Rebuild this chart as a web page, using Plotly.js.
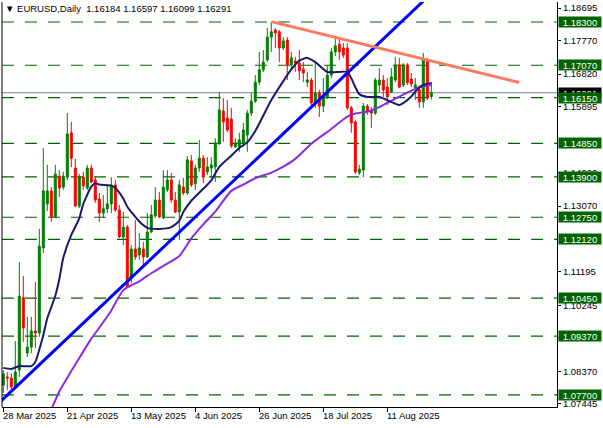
<!DOCTYPE html>
<html><head><meta charset="utf-8">
<script src="https://cdn.plot.ly/plotly-3.0.1.min.js"></script>
<style>html,body{margin:0;padding:0;background:#fff;}#chart{width:603px;height:428px;}</style>
</head><body><div id="chart"></div>
<script>
const dates = ['2025-03-28','2025-03-31',
'2025-04-01','2025-04-02','2025-04-03','2025-04-04','2025-04-07','2025-04-08','2025-04-09','2025-04-10','2025-04-11','2025-04-14','2025-04-15','2025-04-16','2025-04-17','2025-04-18','2025-04-21','2025-04-22','2025-04-23','2025-04-24','2025-04-25','2025-04-28','2025-04-29','2025-04-30',
'2025-05-01','2025-05-02','2025-05-05','2025-05-06','2025-05-07','2025-05-08','2025-05-09','2025-05-12','2025-05-13','2025-05-14','2025-05-15','2025-05-16','2025-05-19','2025-05-20','2025-05-21','2025-05-22','2025-05-23','2025-05-26','2025-05-27','2025-05-28','2025-05-29','2025-05-30',
'2025-06-02','2025-06-03','2025-06-04','2025-06-05','2025-06-06','2025-06-09','2025-06-10','2025-06-11','2025-06-12','2025-06-13','2025-06-16','2025-06-17','2025-06-18','2025-06-19','2025-06-20','2025-06-23','2025-06-24','2025-06-25','2025-06-26','2025-06-27','2025-06-30',
'2025-07-01','2025-07-02','2025-07-03','2025-07-04','2025-07-07','2025-07-08','2025-07-09','2025-07-10','2025-07-11','2025-07-14','2025-07-15','2025-07-16','2025-07-17','2025-07-18','2025-07-21','2025-07-22','2025-07-23','2025-07-24','2025-07-25','2025-07-28','2025-07-29','2025-07-30','2025-07-31',
'2025-08-01','2025-08-04','2025-08-05','2025-08-06','2025-08-07','2025-08-08','2025-08-11','2025-08-12','2025-08-13','2025-08-14','2025-08-15','2025-08-18','2025-08-19','2025-08-20','2025-08-21','2025-08-22','2025-08-25','2025-08-26'];

const openP = [1.0798,1.0821,1.0818,1.0795,1.0841,1.1046,1.0889,1.0906,1.0952,1.0946,
1.1188,1.1313,1.1350,1.1276,1.1392,1.1361,1.1389,1.1515,1.1415,1.1307,
1.1389,1.1358,1.1415,1.1381,1.1327,1.1287,1.1299,1.1313,1.1367,1.1296,
1.1219,1.1247,1.1102,1.1185,1.1168,1.1185,1.1162,1.1233,1.1279,1.1324,
1.1273,1.1353,1.1381,1.1324,1.1290,1.1361,1.1344,1.1435,1.1370,1.1415,
1.1443,1.1404,1.1415,1.1418,1.1486,1.1577,1.1557,1.1554,1.1475,1.1475,
1.1486,1.1509,1.1571,1.1605,1.1659,1.1694,1.1722,1.1787,1.1807,1.1802,
1.1756,1.1779,1.1708,1.1719,1.1713,1.1696,1.1659,1.1665,1.1600,1.1628,
1.1591,1.1617,1.1679,1.1745,1.1767,1.1756,1.1756,1.1586,1.1546,1.1401,
1.1409,1.1591,1.1577,1.1571,1.1651,1.1665,1.1645,1.1631,1.1665,1.1708,
1.1651,1.1708,1.1668,1.1642,1.1637,1.1603,1.1722,1.16184];
const highP = [1.0841,1.0835,1.0832,1.0923,1.1148,1.1108,1.0992,1.0992,1.1091,1.1242,
1.1472,1.1424,1.1361,1.1424,1.1409,1.1404,1.1571,1.1546,1.1441,1.1398,
1.1404,1.1424,1.1424,1.1389,1.1344,1.1338,1.1367,1.1389,1.1381,1.1310,
1.1290,1.1253,1.1196,1.1267,1.1230,1.1205,1.1287,1.1310,1.1361,1.1347,
1.1409,1.1409,1.1401,1.1347,1.1381,1.1387,1.1449,1.1452,1.1424,1.1495,
1.1452,1.1446,1.1446,1.1500,1.1631,1.1614,1.1608,1.1586,1.1500,1.1515,
1.1543,1.1580,1.1628,1.1679,1.1745,1.1750,1.1813,1.1830,1.1813,1.1807,
1.1787,1.1787,1.1745,1.1731,1.1750,1.1716,1.1688,1.1671,1.1713,1.1637,
1.1671,1.1705,1.1756,1.1785,1.1785,1.1770,1.1770,1.1591,1.1551,1.1424,
1.1600,1.1597,1.1588,1.1671,1.1699,1.1679,1.1671,1.1699,1.1731,1.1728,
1.1713,1.1713,1.1685,1.1671,1.1651,1.1742,1.1728,1.16597];
const lowP = [1.0776,1.0784,1.0784,1.0790,1.0821,1.0921,1.0878,1.0889,1.0903,1.0935,
1.1173,1.1293,1.1262,1.1273,1.1333,1.1353,1.1381,1.1418,1.1304,1.1301,
1.1353,1.1353,1.1372,1.1316,1.1262,1.1273,1.1287,1.1287,1.1290,1.1216,
1.1196,1.1074,1.1088,1.1154,1.1154,1.1139,1.1159,1.1230,1.1273,1.1273,
1.1270,1.1347,1.1316,1.1287,1.1210,1.1338,1.1338,1.1361,1.1353,1.1404,
1.1372,1.1395,1.1387,1.1375,1.1480,1.1489,1.1517,1.1472,1.1472,1.1461,
1.1475,1.1461,1.1563,1.1600,1.1651,1.1688,1.1716,1.1745,1.1756,1.1716,
1.1750,1.1665,1.1694,1.1688,1.1665,1.1659,1.1645,1.1591,1.1586,1.1560,
1.1574,1.1611,1.1671,1.1733,1.1722,1.1728,1.1580,1.1515,1.1398,1.1395,
1.1389,1.1566,1.1529,1.1566,1.1631,1.1617,1.1594,1.1628,1.1659,1.1642,
1.1645,1.1651,1.1645,1.1608,1.1586,1.1586,1.1608,1.16099];
const closeP = [1.0830,1.0818,1.0793,1.0835,1.1051,1.0960,1.0906,1.0952,1.0946,1.1193,
1.1350,1.1350,1.1276,1.1398,1.1358,1.1392,1.1512,1.1443,1.1307,1.1389,
1.1364,1.1415,1.1375,1.1324,1.1287,1.1299,1.1313,1.1367,1.1296,1.1219,
1.1247,1.1077,1.1185,1.1162,1.1188,1.1162,1.1233,1.1282,1.1324,1.1276,
1.1361,1.1381,1.1324,1.1290,1.1367,1.1344,1.1438,1.1367,1.1415,1.1443,
1.1389,1.1418,1.1424,1.1486,1.1580,1.1546,1.1523,1.1478,1.1486,1.1495,
1.1523,1.1571,1.1605,1.1659,1.1694,1.1716,1.1787,1.1802,1.1799,1.1756,
1.1776,1.1708,1.1728,1.1713,1.1691,1.1685,1.1665,1.1600,1.1628,1.1591,
1.1620,1.1679,1.1745,1.1762,1.1745,1.1736,1.1586,1.1543,1.1404,1.1412,
1.1591,1.1577,1.1571,1.1665,1.1665,1.1637,1.1617,1.1674,1.1708,1.1645,
1.1708,1.1657,1.1654,1.1651,1.1603,1.1722,1.1614,1.16291];

const fastMaDates = ['2025-03-28','2025-04-01','2025-04-03','2025-04-08','2025-04-09','2025-04-11','2025-04-14','2025-04-16','2025-04-17','2025-04-18','2025-04-22','2025-04-23','2025-04-24','2025-04-25','2025-04-29','2025-04-30','2025-05-01','2025-05-06','2025-05-07','2025-05-09','2025-05-12','2025-05-15','2025-05-19','2025-05-22','2025-05-27','2025-05-29','2025-05-30','2025-06-03','2025-06-06','2025-06-10','2025-06-12','2025-06-17','2025-06-19','2025-06-23','2025-06-25','2025-07-01','2025-07-04','2025-07-08','2025-07-10','2025-07-14','2025-07-16','2025-07-21','2025-07-28','2025-07-29','2025-07-30','2025-07-31','2025-08-04','2025-08-07','2025-08-11','2025-08-14','2025-08-19','2025-08-20','2025-08-22','2025-08-26'];
const fastMaValues = [1.0847,1.0844,1.0852,1.0852,1.0864,1.0940,1.0988,1.1052,1.1099,1.1160,1.1225,1.1248,1.1272,1.1313,1.1362,1.1372,1.1368,1.1365,1.1358,1.1328,1.1305,1.1263,1.1245,1.1242,1.1247,1.1265,1.1290,1.1322,1.1356,1.1380,1.1418,1.1450,1.1472,1.1488,1.1520,1.1608,1.1662,1.1695,1.1720,1.1728,1.1716,1.1688,1.1688,1.1670,1.1645,1.1625,1.1617,1.1617,1.1608,1.1594,1.1618,1.1632,1.1651,1.1657];

const slowMaDates = ['2025-04-15','2025-04-17','2025-04-22','2025-04-24','2025-04-29','2025-05-01','2025-05-06','2025-05-09','2025-05-15','2025-05-20','2025-05-23','2025-05-29','2025-06-03','2025-06-06','2025-06-11','2025-06-17','2025-06-20','2025-06-25','2025-07-01','2025-07-04','2025-07-09','2025-07-15','2025-07-22','2025-07-28','2025-07-30','2025-08-04','2025-08-07','2025-08-12','2025-08-18','2025-08-21','2025-08-26'];
const slowMaValues = [1.0728,1.0780,1.0838,1.0875,1.0930,1.0961,1.1010,1.1068,1.1093,1.1116,1.1137,1.1165,1.1215,1.1255,1.1291,1.1350,1.1368,1.1386,1.1402,1.1419,1.1441,1.1484,1.1526,1.1561,1.1570,1.1575,1.1588,1.1606,1.1629,1.1645,1.1651];

const blueTrendDates = ['2025-03-28','2025-08-13'];
const blueTrendPrices = [1.0759, 1.1814];
const orangeTrendDates = ['2025-07-01','2025-09-25'];
const orangeTrendPrices = [1.1831, 1.1658];

const levels = [1.18300,1.17070,1.16150,1.14850,1.13900,1.12750,1.12120,1.10450,1.09370,1.07700];
const priceTicks = [1.18695,1.17770,1.16820,1.15895,1.14020,1.13070,1.11195,1.10245,1.09320,1.08370,1.07445];
const tickDates = ['2025-03-28','2025-04-21','2025-05-13','2025-06-04','2025-06-26','2025-07-18','2025-08-11'];
const tickLabels = ['28 Mar 2025','21 Apr 2025','13 May 2025','4 Jun 2025','26 Jun 2025','18 Jul 2025','11 Aug 2025'];
const symbolTitle = 'EURUSD,Daily';

function barIndex(d){
  const i = dates.indexOf(d);
  if (i >= 0) return i;
  const t = new Date(dates[dates.length-1] + 'T00:00:00Z');
  const end = new Date(d + 'T00:00:00Z');
  let n = dates.length - 1;
  while (t < end){ t.setUTCDate(t.getUTCDate()+1); const w = t.getUTCDay(); if (w !== 0 && w !== 6) n++; }
  return n;
}
const xs = dates.map((d,i)=>i);
const FONT = 'Liberation Sans, Arial, sans-serif';

const bx0 = barIndex(blueTrendDates[0]), bx1 = barIndex(blueTrendDates[1]);
const bSlope = (blueTrendPrices[1]-blueTrendPrices[0])/(bx1-bx0);
const blueX = [bx0-2, bx1+12];
const blueY = blueX.map(x => blueTrendPrices[0] + bSlope*(x-bx0));

const traces = [
  {type:'candlestick', x: xs, open: openP, high: highP, low: lowP, close: closeP,
   increasing:{line:{color:'#008000', width:1}, fillcolor:'#008000'},
   decreasing:{line:{color:'#ff0000', width:1}, fillcolor:'#ff0000'},
   whiskerwidth:0, hoverinfo:'skip', showlegend:false},
  {type:'scatter', mode:'lines', x: slowMaDates.map(barIndex), y: slowMaValues,
   line:{color:'#8a2be2', width:2, shape:'spline', smoothing:0.6}, hoverinfo:'skip', showlegend:false},
  {type:'scatter', mode:'lines', x: fastMaDates.map(barIndex), y: fastMaValues,
   line:{color:'#191970', width:2, shape:'spline', smoothing:0.6}, hoverinfo:'skip', showlegend:false},
  {type:'scatter', mode:'lines', x: blueX, y: blueY,
   line:{color:'#0000ff', width:3}, hoverinfo:'skip', showlegend:false},
  {type:'scatter', mode:'lines', x: orangeTrendDates.map(barIndex), y: orangeTrendPrices,
   line:{color:'#fa7a60', width:3}, hoverinfo:'skip', showlegend:false}
];

const last = dates.length - 1;
const shapes = [];
levels.forEach(l => shapes.push({type:'line', xref:'paper', x0:0, x1:1, yref:'y', y0:l, y1:l, layer:'below',
  line:{color:'#006400', width:1.2, dash:'12px,11px'}}));
shapes.push({type:'line', xref:'paper', x0:0, x1:1, yref:'y', y0:closeP[last], y1:closeP[last], layer:'below',
  line:{color:'#778899', width:1}});
shapes.push({type:'line', xref:'paper', yref:'paper', x0:0, x1:0, y0:0, y1:1, line:{color:'#000', width:1}});

const annotations = [];
annotations.push({xref:'paper', x:1, xanchor:'left', xshift:1, yref:'y', y:closeP[last], yanchor:'middle',
  text: closeP[last].toFixed(5), showarrow:false, bgcolor:'#000000', borderpad:0, width:42, height:10, align:'center',
  font:{family:FONT, size:9.5, color:'#ffffff'}});
levels.forEach(l => annotations.push({xref:'paper', x:1, xanchor:'left', xshift:1, yref:'y', y:l, yanchor:'middle',
  text: l.toFixed(5), showarrow:false, bgcolor:'#006400', borderpad:0, width:42, height:10, align:'center',
  font:{family:FONT, size:9.5, color:'#ffffff'}}));
tickDates.forEach((d,i) => annotations.push({xref:'x', x: barIndex(d), xanchor:'left', xshift:-1,
  yref:'paper', y:0, yanchor:'top', yshift:-2, text: tickLabels[i], showarrow:false, borderpad:0,
  font:{family:FONT, size:9.5, color:'#000'}}));
annotations.push({xref:'paper', yref:'paper', x:0, y:1, xanchor:'left', yanchor:'top', xshift:2, yshift:0,
  text:'\u25BC ' + symbolTitle + '\u00a0\u00a0' + [openP[last],highP[last],lowP[last],closeP[last]].map(v=>v.toFixed(5)).join(' '),
  showarrow:false, borderpad:0, font:{family:FONT, size:9.5, color:'#000'}});

const layout = {
  width:603, height:428,
  margin:{l:2, r:46, t:2, b:21, pad:0},
  paper_bgcolor:'#ffffff', plot_bgcolor:'#ffffff',
  showlegend:false, boxgap:0.5, boxgroupgap:0,
  xaxis:{range:[-0.325, 138.425], showgrid:false, zeroline:false, showline:true, linecolor:'#000', linewidth:1,
    ticks:'outside', ticklen:4, tickcolor:'#000', tickvals: tickDates.map(barIndex), showticklabels:false,
    rangeslider:{visible:false}, fixedrange:true},
  yaxis:{side:'right', range:[1.07358, 1.18868], showgrid:false, zeroline:false, showline:true, linecolor:'#000', linewidth:1,
    ticks:'outside', ticklen:3, tickcolor:'#000', tickvals: priceTicks, tickformat:'.5f',
    tickfont:{family:FONT, size:9.5, color:'#000'}, fixedrange:true},
  shapes: shapes,
  annotations: annotations
};
Plotly.newPlot('chart', traces, layout, {staticPlot:true, displayModeBar:false});
</script>
</body></html>
